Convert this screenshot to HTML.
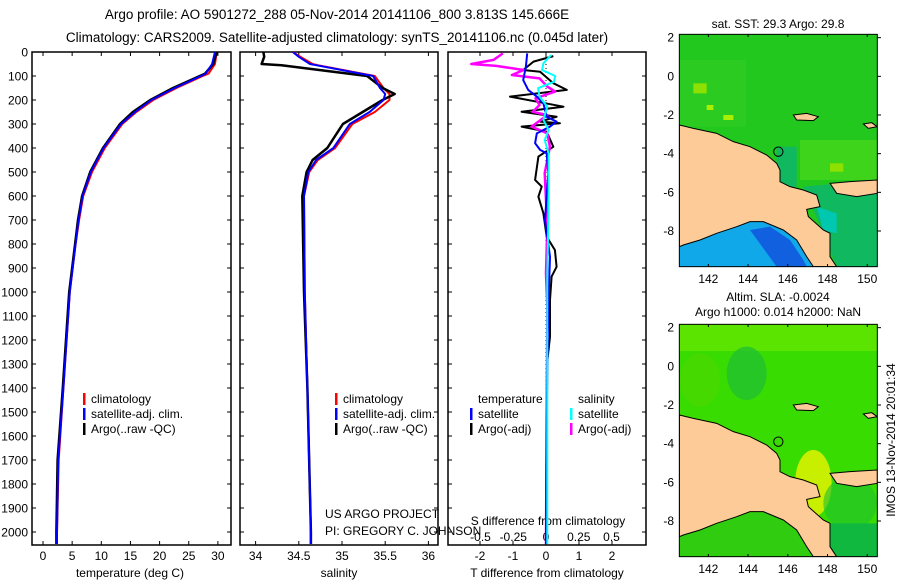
<!DOCTYPE html>
<html><head><meta charset="utf-8"><style>
body{margin:0;background:#fff}
svg{display:block;font-family:"Liberation Sans",sans-serif}
</style></head><body>
<svg id="s" width="900" height="580" viewBox="0 0 900 580" xmlns="http://www.w3.org/2000/svg">
<rect width="900" height="580" fill="#fff"/>
<text x="337" y="19" font-size="13.5" text-anchor="middle">Argo profile: AO 5901272_288 05-Nov-2014 20141106_800 3.813S 145.666E</text>
<text x="337" y="42" font-size="13.5" text-anchor="middle">Climatology: CARS2009. Satellite-adjusted climatology: synTS_20141106.nc (0.045d later)</text>
<g id="panels"></g>
<!-- SST map -->
<g>
<text x="778" y="28" font-size="12" text-anchor="middle">sat. SST: 29.3 Argo: 29.8</text>
<g transform="translate(650,0) scale(0.33333)">
<clipPath id="c1"><rect x="88" y="103" width="594" height="697"/></clipPath>
<g clip-path="url(#c1)">
<rect x="88" y="103" width="594" height="697" fill="#22c81e"/>
<rect x="88" y="180" width="200" height="200" fill="#30cc22" opacity="0.7"/>
<rect x="450" y="420" width="232" height="120" fill="#48d81a" opacity="0.7"/>
<rect x="130" y="250" width="40" height="30" fill="#8ee000"/>
<rect x="170" y="315" width="20" height="15" fill="#aaee00"/>
<rect x="220" y="345" width="30" height="15" fill="#aaee00"/>
<rect x="540" y="490" width="40" height="25" fill="#8ee000"/>
<rect x="380" y="440" width="60" height="120" fill="#10b860"/>
<polygon points="460,560 682,540 682,800 560,800 520,700" fill="#10b860"/>
<polygon points="500,620 560,640 560,700 520,690" fill="#00c8b0"/>
<polygon points="88,740 100,735 150,720 200,700 260,680 300,665 340,665 400,690 440,720 470,770 490,800 88,800" fill="#10a8e8"/>
<polygon points="300,690 360,680 420,720 460,780 470,800 380,800" fill="#1060e0"/>
<polygon points="88,375 130,385 200,400 250,425 300,440 350,465 380,490 390,510 390,545 420,560 460,570 500,585 510,620 470,628 475,650 520,690 540,700 540,770 560,800 490,800 470,770 440,720 400,690 340,665 300,665 260,680 200,700 150,720 100,735 88,740" fill="#fccb98" stroke="#000" stroke-width="3"/>
<polygon points="540,550 600,545 682,540 682,580 620,590 560,580" fill="#fccb98" stroke="#000" stroke-width="3"/>
<polygon points="430,345 470,340 505,350 490,362 440,360" fill="#fccb98" stroke="#000" stroke-width="3"/>
<polygon points="640,372 665,368 682,380 655,385" fill="#fccb98" stroke="#000" stroke-width="3"/>
<circle cx="385" cy="455" r="14" fill="none" stroke="#000" stroke-width="3"/>
</g>
<rect x="88" y="103" width="594" height="697" fill="none" stroke="#000" stroke-width="3"/>
</g>
</g>
<!-- SLA map -->
<g>
<text x="778" y="301" font-size="12" text-anchor="middle">Altim. SLA: -0.0024</text>
<text x="778" y="316" font-size="12" text-anchor="middle">Argo h1000: 0.014 h2000: NaN</text>
<g transform="translate(650,290) scale(0.33333)">
<clipPath id="c2"><rect x="88" y="103" width="594" height="697"/></clipPath>
<g clip-path="url(#c2)">
<rect x="88" y="103" width="594" height="697" fill="#38dc00"/>
<rect x="88" y="103" width="594" height="80" fill="#5ae400"/>
<ellipse cx="290" cy="250" rx="60" ry="80" fill="#20c030" opacity="0.8"/>
<ellipse cx="150" cy="270" rx="60" ry="80" fill="#4ad800" opacity="0.8"/>
<ellipse cx="490" cy="580" rx="55" ry="100" fill="#c8ee00"/>
<ellipse cx="600" cy="640" rx="80" ry="80" fill="#20c030" opacity="0.6"/>
<polygon points="520,700 682,700 682,800 540,800" fill="#10b840"/>
<polygon points="88,740 100,735 150,720 200,700 260,680 300,665 340,665 400,690 440,720 470,770 490,800 88,800" fill="#30cc10"/>
<polygon points="88,375 130,385 200,400 250,425 300,440 350,465 380,490 390,510 390,545 420,560 460,570 500,585 510,620 470,628 475,650 520,690 540,700 540,770 560,800 490,800 470,770 440,720 400,690 340,665 300,665 260,680 200,700 150,720 100,735 88,740" fill="#fccb98" stroke="#000" stroke-width="3"/>
<polygon points="540,550 600,545 682,540 682,580 620,590 560,580" fill="#fccb98" stroke="#000" stroke-width="3"/>
<polygon points="430,345 470,340 505,350 490,362 440,360" fill="#fccb98" stroke="#000" stroke-width="3"/>
<polygon points="640,372 665,368 682,380 655,385" fill="#fccb98" stroke="#000" stroke-width="3"/>
<circle cx="385" cy="455" r="14" fill="none" stroke="#000" stroke-width="3"/>
</g>
<rect x="88" y="103" width="594" height="697" fill="none" stroke="#000" stroke-width="3"/>
</g>
<text transform="translate(895,440) rotate(-90)" font-size="12" text-anchor="middle">IMOS 13-Nov-2014 20:01:34</text>
</g>
<g id="maxes"></g>
</svg>
<script>
// ---- data (depth in m) ----
const depthTicks=[0,100,200,300,400,500,600,700,800,900,1000,1100,1200,1300,1400,1500,1600,1700,1800,1900,2000];
const tTicks=[0,5,10,15,20,25,30];
const sTicks=[34,34.5,35,35.5,36];
const tdTicks=[-2,-1,0,1,2];
const sdTicks=[-0.5,-0.25,0,0.25,0.5];
const tempDepth=[0,50,90,100,150,200,250,300,400,500,600,700,800,1000,1400,1700,2000,2050];
const tempArgo=[29.8,29.2,27.8,26.9,22.3,18.4,15.4,13.2,10.3,8.1,6.7,6.0,5.5,4.5,3.4,2.5,2.3,2.3];
const tempSat =[29.5,29.0,27.9,27.1,22.6,18.6,15.8,13.4,10.4,8.2,6.8,6.1,5.6,4.6,3.5,2.6,2.4,2.4];
const tempClim=[29.8,29.5,28.4,27.4,22.9,18.9,16.0,13.6,10.6,8.4,6.9,6.2,5.6,4.6,3.5,2.7,2.4,2.4];
const salDepth=[0,20,50,55,100,150,175,200,250,300,400,450,500,600,1000,1400,2000,2050];
const salArgo=[34.09,34.1,34.07,34.3,35.29,35.47,35.61,35.47,35.24,35.01,34.83,34.66,34.59,34.54,34.56,34.6,34.64,34.64];
const salSat =[34.43,34.5,34.63,34.7,35.36,35.44,35.5,35.48,35.32,35.09,34.9,34.7,34.61,34.56,34.57,34.6,34.64,34.64];
const salClim=[34.43,34.52,34.66,34.72,35.38,35.48,35.55,35.55,35.38,35.12,34.92,34.72,34.62,34.56,34.57,34.6,34.64,34.64];
const tdArgoDepth=[17,40,75,82,130,158,186,228,249,270,290,297,311,332,395,436,533,561,603,672,770,825,895,936,1033,1186,1300,2050];
const tdArgo=[0.22,-0.38,-0.69,-0.18,0.22,0.63,-1.09,0.53,-0.74,0.32,-0.18,0.42,-0.74,0.02,0.22,-0.23,-0.33,-0.13,-0.23,-0.08,0.02,0.27,0.32,0.17,0.12,0.12,0.03,0.0];
const tdSatDepth=[6,61,117,158,186,214,270,290,311,339,380,408,422,505,700,853,1061,1339,1519,2050];
const tdSat=[-0.57,-0.61,-0.69,-0.54,-0.28,-0.08,0.02,0.32,0.12,-0.28,-0.33,-0.18,0.02,0.07,-0.03,0.12,0.07,0.04,0.02,0.0];
const sdArgoDepth=[6,33,50,58,75,96,110,144,165,193,221,249,263,311,339,395,505,728,922,1061,2050];
const sdArgo=[-0.33,-0.40,-0.57,-0.38,-0.17,-0.26,-0.05,0.01,0.07,-0.08,-0.05,-0.10,0.01,-0.11,0.01,0.03,-0.01,0.01,0.0,0.01,0.0];
const sdSatDepth=[12,47,75,100,124,151,186,228,283,325,367,422,644,922,1478,2050];
const sdSat=[0.04,-0.02,-0.03,0.07,0.06,-0.06,-0.05,0.01,-0.02,0.02,-0.01,0.02,0.02,0.01,0.01,0.01];

const NS='http://www.w3.org/2000/svg';
const G=document.getElementById('panels');
const yD=d=>52+0.24*d;
const xT=t=>43+5.83*t;
const xS=s=>255.6+86.4*(s-34);
const xTD=v=>546+33*v;
const xSD=v=>546+131*v;
function mk(tag,attrs,parent){const e=document.createElementNS(NS,tag);for(const k in attrs)e.setAttribute(k,attrs[k]);(parent||G).appendChild(e);return e;}
function txt(x,y,s,anchor,size){const e=mk('text',{x:x,y:y,'font-size':size||12,'text-anchor':anchor||'start'});e.textContent=s;return e;}
function line(ds,vs,xf,color,w,name){
  const pts=ds.map((d,i)=>xf(vs[i]).toFixed(1)+','+yD(d).toFixed(1)).join(' ');
  const p=mk('polyline',{points:pts,fill:'none',stroke:color,'stroke-width':w,'stroke-linejoin':'round'});
  
  
}
const panels=[[32,231],[240,438],[448,646]];
panels.forEach((p,i)=>{
  const r=mk('rect',{x:p[0],y:52,width:p[1]-p[0],height:493,fill:'none',stroke:'#000','stroke-width':1.5});
  
  
  depthTicks.forEach(d=>{mk('line',{x1:p[0],x2:p[0]+4,y1:yD(d),y2:yD(d),stroke:'#000'});mk('line',{x1:p[1]-4,x2:p[1],y1:yD(d),y2:yD(d),stroke:'#000'});});
});
depthTicks.forEach(d=>{const t=txt(28,yD(d)+4.5,String(d),'end');});
tTicks.forEach(v=>{mk('line',{x1:xT(v),x2:xT(v),y1:52,y2:56,stroke:'#000'});mk('line',{x1:xT(v),x2:xT(v),y1:541,y2:545,stroke:'#000'});const t=txt(xT(v),560,String(v),'middle');});
sTicks.forEach(v=>{mk('line',{x1:xS(v),x2:xS(v),y1:52,y2:56,stroke:'#000'});mk('line',{x1:xS(v),x2:xS(v),y1:541,y2:545,stroke:'#000'});const t=txt(xS(v),560,String(v),'middle');});
tdTicks.forEach(v=>{mk('line',{x1:xTD(v),x2:xTD(v),y1:541,y2:545,stroke:'#000'});mk('line',{x1:xTD(v),x2:xTD(v),y1:52,y2:56,stroke:'#000'});const t=txt(xTD(v),560,String(v),'middle');});
sdTicks.forEach(v=>{const t=txt(xSD(v),541,String(v),'middle');});
// zero dotted line
mk('line',{x1:xTD(0),x2:xTD(0),y1:52,y2:545,stroke:'#000','stroke-dasharray':'1,3'});
let t;
t=txt(130,577,'temperature (deg C)','middle');
t=txt(339,577,'salinity','middle');
t=txt(547,577,'T difference from climatology','middle');
t=txt(548,525,'S difference from climatology','middle');
t=txt(325,518,'US ARGO PROJECT');
t=txt(325,535,'PI: GREGORY C. JOHNSON');
// series
line(tempDepth,tempClim,xT,'#f00',2,'temp-climatology-line');
line(tempDepth,tempArgo,xT,'#000',2.5,'temp-argo-line');
line(tempDepth,tempSat,xT,'#00f',2,'temp-satellite-line');
line(salDepth,salClim,xS,'#f00',2,'sal-climatology-line');
line(salDepth,salArgo,xS,'#000',2.5,'sal-argo-line');
line(salDepth,salSat,xS,'#00f',2,'sal-satellite-line');
line(tdArgoDepth,tdArgo,xTD,'#000',2,'tdiff-argo-line');
line(sdArgoDepth,sdArgo,xSD,'#f0f',2.5,'sdiff-argo-line');
line(tdSatDepth,tdSat,xTD,'#00f',2,'tdiff-satellite-line');
line(sdSatDepth,sdSat,xSD,'#0ff',2,'sdiff-satellite-line');
// legends
function leg(x,y,c,s,name){mk('rect',{x:x,y:y-10,width:2.5,height:12,fill:c});const e=txt(x+8,y,s);}
leg(83,403,'#f00','climatology','legend-climatology');
leg(83,418,'#00f','satellite-adj. clim.','legend-satellite-adj');
leg(83,433,'#000','Argo(..raw -QC)','legend-argo');
leg(335,403,'#f00','climatology','legend-climatology-sal');
leg(335,418,'#00f','satellite-adj. clim.','legend-satellite-adj-sal');
leg(335,433,'#000','Argo(..raw -QC)','legend-argo-sal');
t=txt(478,403,'temperature');
t=txt(578,403,'salinity');
leg(470,418,'#00f','satellite','legend-t-satellite');
leg(470,433,'#000','Argo(-adj)','legend-t-argo');
leg(570,418,'#0ff','satellite','legend-s-satellite');
leg(570,433,'#f0f','Argo(-adj)','legend-s-argo');
// map axes
const lonTicks=[142,144,146,148,150];
const latTicks=[2,0,-2,-4,-6,-8];
const M=document.getElementById('maxes');
[[0],[290]].forEach(o=>{
  const oy=o[0];
  lonTicks.forEach(v=>{const x=650+(175+(v-142)*59.6)/3;const e=mk('text',{x:x,y:oy+283,'font-size':12,'text-anchor':'middle'},M);e.textContent=v;
    mk('line',{x1:x,x2:x,y1:oy+34,y2:oy+37,stroke:'#000'},M);mk('line',{x1:x,x2:x,y1:oy+264,y2:oy+267,stroke:'#000'},M);});
  latTicks.forEach(v=>{const y=oy+(113+(2-v)*58)/3;const e=mk('text',{x:674,y:y+4,'font-size':12,'text-anchor':'end'},M);e.textContent=v;
    mk('line',{x1:877,x2:881,y1:y,y2:y,stroke:'#000'},M);});
});
</script>
</body></html>
